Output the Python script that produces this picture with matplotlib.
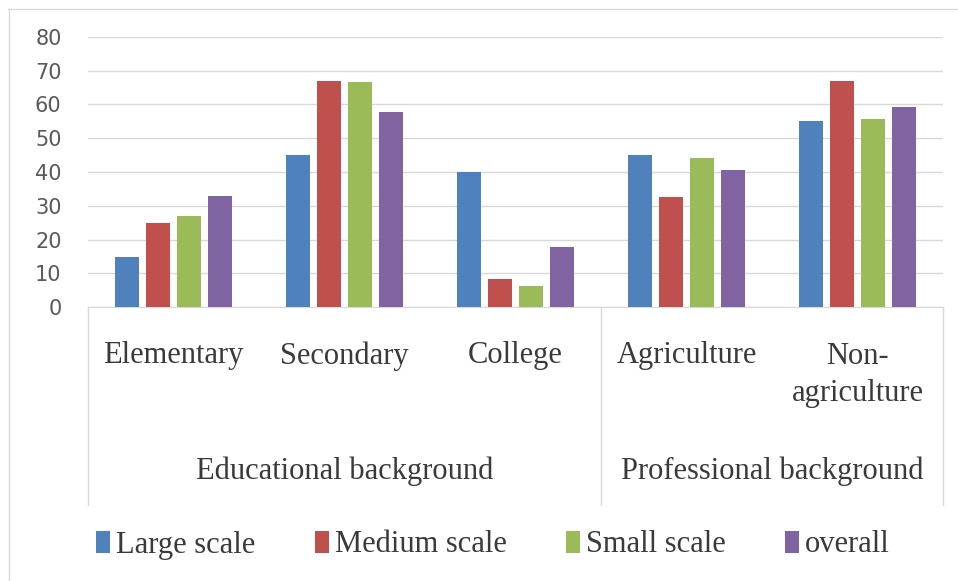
import numpy as np
import matplotlib.pyplot as plt
from matplotlib.lines import Line2D

# survey shares by farm scale (%)
categories = ['Elementary', 'Secondary', 'College', 'Agriculture', 'Non-\nagriculture']
groups = ['Educational background', 'Professional background']
group_sizes = [3, 2]
series = ['Large scale', 'Medium scale', 'Small scale', 'overall']
large = [15, 45, 40, 45, 55]
medium = [25, 67, 8.3, 32.5, 67]
small = [27, 66.5, 6.4, 44, 55.8]
overall = [33, 57.6, 17.8, 40.5, 59.2]
colors = ['#4F81BD', '#C0504D', '#9BBB59', '#8064A2']

serif = ['Liberation Serif', 'DejaVu Serif']
txt_color = '#3a3a3a'

fig = plt.figure(figsize=(9.58, 5.81), dpi=100)
W, H = 958, 581
x0, x1 = 88, 943
y_top, y_zero = 36.7, 307.3
ax = fig.add_axes([x0 / W, 1 - y_zero / H, (x1 - x0) / W, (y_zero - y_top) / H])

x = np.arange(len(categories))
step, width = 0.18, 0.14
for k, (vals, c, name) in enumerate(zip([large, medium, small, overall], colors, series)):
    ax.bar(x + (k - 1.5) * step, vals, width=width, color=c, label=name, zorder=3)

ax.set_xlim(-0.5, len(categories) - 0.5)
ax.set_ylim(0, 80)
ax.set_yticks(range(0, 81, 10))
ax.yaxis.grid(True, color='#d9d9d9', linewidth=1, zorder=0)
ax.tick_params(axis='y', length=0, labelsize=15, labelcolor='#595959', pad=19)
ax.set_xticks([])
for side in ['top', 'right', 'left']:
    ax.spines[side].set_visible(False)
ax.spines['bottom'].set_color('#d9d9d9')

# multi-level category axis below the plot
def fy(py):
    return 1 - py / H

def fx(v):
    return (x0 + (v + 0.5) * (x1 - x0) / len(categories)) / W

for i, lab in enumerate(categories):
    lines = lab.split('\n')
    for j, part in enumerate(lines):
        fig.text(fx(i), fy(356 + 37 * j), part, ha='center', va='center',
                 family=serif, fontsize=22, color=txt_color)

start = 0
for g, n in zip(groups, group_sizes):
    mid = start + (n - 1) / 2
    fig.text(fx(mid), fy(471), g, ha='center', va='center',
             family=serif, fontsize=22, color=txt_color)
    start += n

for b in [-0.5, 2.5, 4.5]:
    fig.add_artist(Line2D([fx(b), fx(b)], [fy(y_zero), fy(505)],
                          color='#d9d9d9', linewidth=1))

# chart frame
fig.add_artist(Line2D([8 / W, 1], [fy(9), fy(9)], color='#d9d9d9', linewidth=1))
fig.add_artist(Line2D([8.5 / W, 8.5 / W], [fy(9), 0], color='#d9d9d9', linewidth=1))

fig.legend(loc='center', bbox_to_anchor=(493 / W, fy(545)), ncol=4, frameon=False,
           prop={'family': serif, 'size': 22}, labelcolor=txt_color,
           handlelength=0.45, handleheight=0.7, handletextpad=0.2, columnspacing=1.95)

fig.savefig('out.png', dpi=100)
